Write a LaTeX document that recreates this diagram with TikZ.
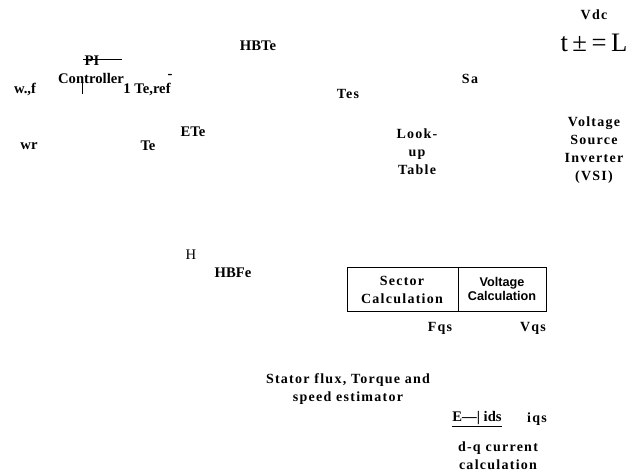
\documentclass[tikz,border=0pt]{standalone}
\usepackage{fontspec}
\setmainfont{Liberation Serif}
\newfontfamily\spacedfont[LetterSpace=9]{Liberation Serif}
\newfontfamily\headfont{Liberation Sans}
\usepackage{tikz}
\tikzset{
  every node/.style={inner sep=0pt, font=\bfseries\fontsize{11}{12}\selectfont},
  spaced/.style={font=\spacedfont\bfseries\fontsize{10.5}{13.5}\selectfont, align=center},
  plain/.style={font=\fontsize{11}{12}\selectfont},
}

\begin{document}
\begin{tikzpicture}[x=0.75pt, y=-0.75pt]
	\useasboundingbox (0,0) rectangle (626,474);

	% top row
	\node[spaced] (vdc) at (594,15) {Vdc};
	\node[font=\fontsize{20}{22}\selectfont] (tl) at (594,43) {t\,±\,=\,L};
	\node (hbte) at (258,46) {HBTe};
	\node (pi) at (92,61) {PI};
	\coordinate (pil) at (83,59);
	\coordinate (pir) at (122,59);
	\draw (pil) -- (pir);
	\node (ctrl) at (91,78) {Controller};
	\node (wref) at (25,89) {w.,f};
	\coordinate (bart) at (82,83);
	\coordinate (barb) at (82,94);
	\draw (bart) -- (barb);
	\node (teref) at (147,89) {1 Te,ref};
	\node (bar) at (170,76) {-};
	\node[spaced] (sa) at (470,79) {Sa};
	\node[spaced] (tes) at (348,94) {Tes};

	% middle
	\node (ete) at (193,132) {ETe};
	\node (wr) at (29,146) {wr};
	\node (te) at (148,146) {Te};
	\node[spaced] (lut) at (417,152) {Look-\\up\\Table};
	\node[spaced] (vsi) at (594,150) {Voltage\\Source\\Inverter\\(VSI)};

	% sector and voltage block
	\node[plain] (h) at (191,255) {H};
	\node (hbfe) at (233,273) {HBFe};
	\draw (347,267) rectangle (546,311);
	\draw (458,267) -- (458,311);
	\node[spaced] (sect) at (402,290) {Sector\\Calculation};
	\node[font=\headfont\bfseries\fontsize{9.5}{11}\selectfont, align=center] (vcalc) at (502,289) {Voltage\\Calculation};
	\node[spaced] (fqs) at (440,328) {Fqs};
	\node[spaced] (vqs) at (533,328) {Vqs};

	% estimator
	\node[spaced] (est) at (348,389) {Stator flux, Torque and\\speed  estimator};
	\node (ids) at (477,419) {\underline{E—| ids}};
	\node[spaced] (iqs) at (537,419) {iqs};
	\node[spaced] (dq) at (498,456) {d-q current\\calculation};

\end{tikzpicture}
\end{document}
